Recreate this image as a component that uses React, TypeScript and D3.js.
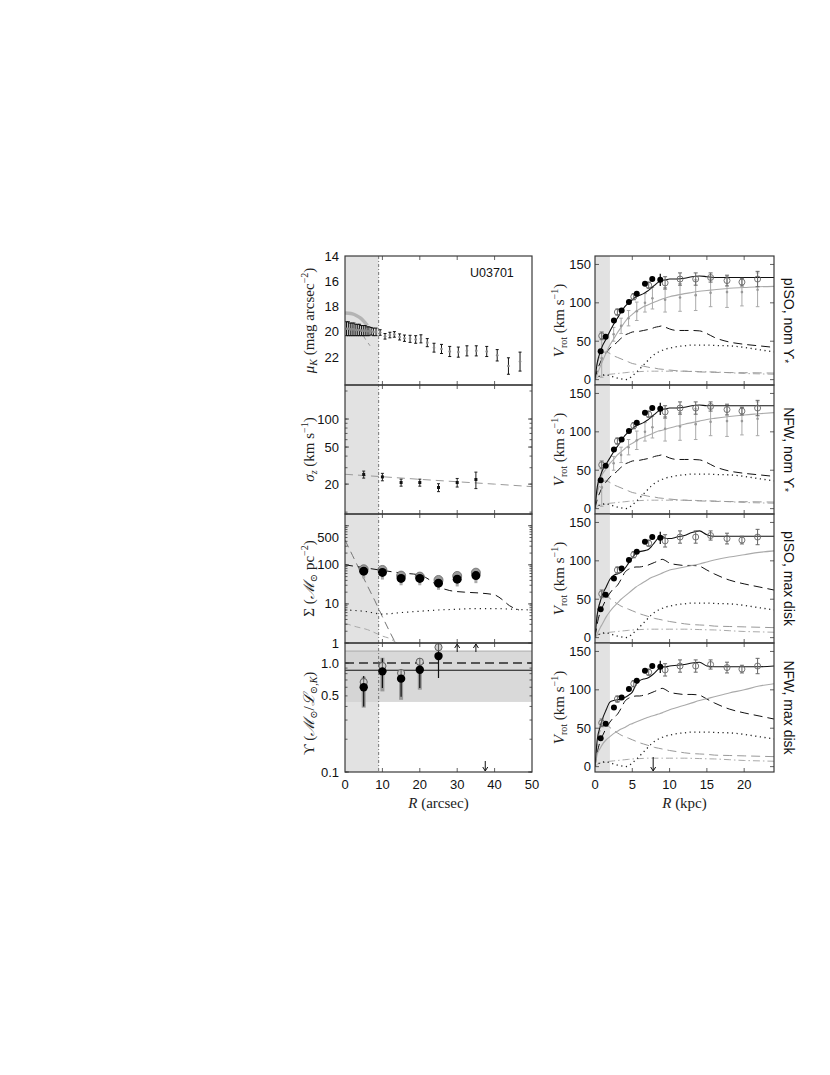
import React from "react";
import * as d3 from "d3";

const SANS = "'Liberation Sans', Arial, Helvetica, sans-serif";
const SERIF = "'Liberation Serif', 'DejaVu Serif', 'Times New Roman', serif";

// ---------------- Left column data ----------------
const galaxyName = "U03701";
const muR = [0.4, 0.9, 1.4, 1.9, 2.4, 2.9, 3.4, 3.9, 4.4, 4.9, 5.4, 5.9, 6.4, 7.0, 7.6, 8.3,
  9.4, 10.7, 12.0, 13.2, 14.6, 15.9, 17.4, 18.9, 20.3, 22.0, 23.8, 25.8, 28.0, 30.3, 32.6, 35.1, 37.9, 40.7, 43.7, 46.8];
const muV = [19.75, 19.75, 19.8, 19.8, 19.8, 19.85, 19.85, 19.85, 19.9, 19.9, 19.9, 19.95, 19.95, 19.95, 20.0, 20.0,
  20.05, 20.35, 20.25, 20.2, 20.4, 20.5, 20.55, 20.6, 20.55, 20.85, 21.25, 21.35, 21.55, 21.6, 21.5, 21.5, 21.55, 21.85, 22.7, 22.35];
const muErr = [0.55, 0.55, 0.5, 0.5, 0.5, 0.45, 0.45, 0.45, 0.4, 0.4, 0.4, 0.35, 0.35, 0.3, 0.3, 0.3,
  0.22, 0.22, 0.22, 0.22, 0.24, 0.25, 0.28, 0.3, 0.32, 0.32, 0.35, 0.36, 0.4, 0.4, 0.4, 0.4, 0.4, 0.45, 0.65, 0.75];
const muFitR = [0, 1, 2, 3, 4, 5, 6];
const muFitV = [18.5, 18.52, 18.58, 18.7, 18.88, 19.15, 19.5];
const muBulgeR = [3.5, 4.5, 5.5, 6.7];
const muBulgeV = [19.7, 20.1, 20.6, 21.1];
const muTicks = [14, 16, 18, 20, 22];

const sigR = [5, 10, 15, 20, 25, 30, 35];
const sigV = [25.4, 23.9, 20.8, 20.8, 18.4, 20.8, 22.4];
const sigErr = [2.2, 2.2, 1.8, 1.8, 1.8, 2.2, 4.5];
const sigModelR = [0, 10, 20, 30, 40, 50];
const sigModelV = [25.5, 24, 22.5, 21.2, 20, 18.8];
const sigTicks = [20, 50, 100];

const sdR = [5, 10, 15, 20, 25, 30, 35];
const sdFilled = [69, 64, 45, 45, 34, 43, 53];
const sdOpen = [77, 74, 53, 50, 41, 52, 63];
const sdLow = [45, 42, 30, 30, 23, 28, 34];
const sdDiskR = [0, 5, 10, 15, 20, 22.5, 25, 28, 32, 36, 40, 42, 44, 46.5];
const sdDiskV = [100, 85, 72, 62, 55, 42, 28, 22, 20, 19, 17, 13, 9, 7];
const sdBulgeR = [0, 2, 4, 6, 8, 10, 12, 13.5];
const sdBulgeV = [430, 175, 71, 29, 12, 4.7, 1.9, 1.0];
const sdGasR = [0, 5, 10, 15, 20, 25, 30, 35, 40, 45, 50];
const sdGasV = [7, 6.5, 5.5, 6, 6.5, 7, 7.3, 7.6, 7.6, 7.3, 7];
const sdMolR = [0, 3, 6, 9, 10, 12, 13.5, 14.5];
const sdMolV = [3.2, 2.6, 2.2, 1.65, 1.5, 1.3, 1.05, 0.9];
const sdTicks = [1, 10, 100, 500];

const upR = [5, 10, 15, 20, 25];
const upFilled = [0.60, 0.84, 0.72, 0.87, 1.16];
const upFilledLo = [0.40, 0.59, 0.49, 0.59, 0.73];
const upFilledHi = [0.76, 1.11, 0.83, 1.02, 1.37];
const upOpen = [0.67, 0.94, 0.81, 1.03, 1.40];
const upGreyLo = [0.39, 0.55, 0.46, 0.57];
const upGreyHi = [0.75, 1.12, 0.86, 1.07];
const upArrowR = [30, 35];
const upDownArrowR = 37.5;
const upBand = [0.44, 1.29];
const upNominal = 1.0;
const upMean = 0.86;
const upTickLabels = [0.1, 0.5, 1.0];
const leftXTicks = [0, 10, 20, 30, 40, 50];

// ---------------- Right column data ----------------
const RM = [0, 0.3, 0.7, 1, 1.5, 2, 2.5, 3, 3.5, 4, 4.5, 5, 5.5, 6, 6.5, 7, 7.5, 8, 8.5, 9, 9.5, 10, 11, 12, 13, 14, 15, 16, 18, 20, 22, 24];
const totalPisoNom = [0, 22, 36, 44, 53, 63, 72, 80, 88, 95, 100, 104, 108, 110, 112, 115, 119, 123, 127, 129, 130, 131, 131, 132, 134, 135, 134, 133, 133, 133, 133, 133];
const totalNfwNom = [0, 28, 42, 50, 58, 66, 74, 81, 88, 95, 100, 104, 108, 110, 112, 115, 119, 123, 127, 129, 130, 131, 131, 132, 134, 135, 134, 134, 134, 134, 134, 134];
const totalPisoMax = [0, 30, 47, 56, 66, 76, 81, 83, 85, 90, 97, 104, 110, 112, 113, 114, 118, 124, 130, 132, 129, 129, 131, 133, 137, 139, 134, 132, 132, 132, 132, 132];
const totalNfwMax = [0, 35, 52, 62, 74, 84, 86, 87, 88, 90, 93, 97, 107, 112, 114, 115, 118, 122, 127, 130, 130, 131, 132, 133, 135, 136, 131, 130, 130, 130, 130, 131];
const diskNom = [0, 12, 22, 28, 35, 41, 45, 49, 54, 58, 60, 62, 62.5, 63, 64, 65, 66, 68, 69, 70, 68, 66, 64, 64, 64, 63.5, 60, 55, 49, 46, 44, 42];
const diskMax = [0, 18, 33, 40, 50, 58, 64, 68, 76, 85, 89, 91, 92, 92, 93, 94, 96, 98, 100, 102, 100, 97, 95, 94, 94, 93, 88, 83, 75, 70, 66, 62];
const bulgeNom = [0, 20, 32, 35, 36, 34, 31, 29, 27, 25, 23, 21, 20, 18.5, 17.5, 16.5, 15.5, 15, 14, 13.5, 13, 12.5, 11.5, 11, 10.5, 10, 9.8, 9.5, 9.2, 9, 8.8, 8.5];
const bulgeMax = [0, 30, 47, 52, 54, 51, 47, 44, 41, 39, 37, 35, 33, 31, 29.5, 28, 26.5, 25, 24, 23, 22, 21, 19.5, 18, 17, 16.5, 16, 15, 14.5, 14, 13.5, 13];
const gasV = [0, 3, 5, 6, 6, 5, 3.5, 2, 1, 0, 1, 5, 9, 14, 19, 24, 29, 33, 36, 38, 40, 41, 43, 44, 45, 45, 45, 44.5, 44, 42, 39, 36];
const molV = [0, 3, 4.5, 5, 6, 7, 7.5, 8, 8.5, 9, 9.5, 10, 10.2, 10.5, 10.7, 11, 11, 11, 11, 11, 11, 11, 11, 11, 10.8, 10.5, 10.2, 10, 9, 8, 7.5, 7];
const haloPisoNom = [0, 7, 17, 24, 35, 45, 53, 61, 68, 75, 81, 85, 89, 92, 95, 97, 99, 101, 103, 105, 106.5, 108, 110, 112, 113.5, 115, 116, 117, 119, 120, 121, 121.5];
const haloNfwNom = [0, 25, 38, 45, 52, 59, 64, 70, 74, 78, 82, 85, 88, 91, 93, 95, 97, 99, 101, 102, 103.5, 105, 107.5, 110, 112, 114, 116, 117.5, 120, 122, 123.5, 125];
const haloPisoMax = [0, 5, 13, 18, 27, 34, 40, 45, 50, 54, 58, 62, 66, 69, 72, 75, 78, 80, 82, 84, 86, 88, 90, 92, 94, 96, 98.5, 101, 105, 108, 111, 113];
const haloNfwMax = [0, 16, 24, 29, 35, 39, 43, 46, 49, 51, 54, 56, 58, 60, 62, 64, 65.5, 67, 68.5, 70, 72, 74, 77, 80, 83, 86, 88.5, 91, 96, 100, 105, 108];

const starR = [0.76, 1.43, 2.54, 3.57, 4.55, 5.6, 6.7, 7.68, 8.75];
const starV = [37, 56, 77, 90, 101, 112, 125, 131, 130];
const starErr = [3, 3, 3, 3, 3, 3, 3, 3, 8];
const hiR = [0.9, 3.0, 5.2, 7.2, 9.4, 11.4, 13.5, 15.5, 17.7, 19.7, 21.8];
const hiV = [57, 88, 108, 123, 126, 131, 131, 133, 129, 127, 131];
const hiErr = [5, 4, 4, 4, 8, 8, 8, 6, 7, 5, 10];
const dmR = [0.9, 2.5, 3.5, 4.5, 5.6, 6.7, 7.7, 9.4, 11.4, 13.5, 15.5, 17.7, 19.7, 21.8];
const dmV = [28, 59, 70, 80, 89, 100, 106, 104, 107, 110, 113, 114, 114, 117];
const dmErr = [25, 9, 10, 10, 12, 12, 14, 16, 18, 20, 18, 20, 18, 22];
const rightYTicks = [0, 50, 100, 150];
const rightXTicks = [0, 5, 10, 15, 20];
const rightArrowR = 7.8;
const panelLabels = ["pISO, nom ", "NFW, nom ", "pISO, max disk", "NFW, max disk"];

// ---------------- Layout ----------------
const TOPS = [256, 385, 514, 643];
const PH = 129;
const LX0 = 345, LX1 = 532, RX0 = 595, RX1 = 774;
const SHADE = "#e2e2e2";
const FRAME = "#3a3a3a";
const TICKFS = 13;
const LABFS = 15;
const LEFT_LABEL_X = 314;
const RIGHT_LABEL_X = 564;

const xL = d3.scaleLinear().domain([0, 50]).range([LX0, LX1]);
const xR = d3.scaleLinear().domain([0, 24]).range([RX0, RX1]);
const yMu = d3.scaleLinear().domain([14, 24.2]).range([TOPS[0], TOPS[0] + PH]);
const ySig = d3.scaleLog().domain([9.55, 232]).range([TOPS[1] + PH, TOPS[1]]);
const ySd = d3.scaleLog().domain([1, 2000]).range([TOPS[2] + PH, TOPS[2]]);
const yUp = d3.scaleLog().domain([0.1, 1.53]).range([TOPS[3] + PH, TOPS[3]]);

function pathXY(xs: number[], ys: number[], x: any, y: any, curve = d3.curveLinear) {
  const pts = xs.map((v, i) => [v, ys[i]] as [number, number]);
  return d3.line<[number, number]>().x(d => x(d[0])).y(d => y(d[1])).curve(curve)(pts) || "";
}

function yTicks(y: any, vals: number[], x0: number, x1: number, len: number, key: string) {
  return vals.filter(v => y(v) >= y.range()[1] - 0.1 && y(v) <= y.range()[0] + 0.1).map((v, i) => (
    <g key={key + i}>
      <line x1={x0} x2={x0 + len} y1={y(v)} y2={y(v)} stroke={FRAME} strokeWidth={0.8} />
      <line x1={x1 - len} x2={x1} y1={y(v)} y2={y(v)} stroke={FRAME} strokeWidth={0.8} />
    </g>
  ));
}
function xTicks(x: any, vals: number[], y0: number, y1: number, len: number, key: string) {
  return vals.map((v, i) => (
    <g key={key + i}>
      <line x1={x(v)} x2={x(v)} y1={y0} y2={y0 + len} stroke={FRAME} strokeWidth={0.8} />
      <line x1={x(v)} x2={x(v)} y1={y1 - len} y2={y1} stroke={FRAME} strokeWidth={0.8} />
    </g>
  ));
}
function logMinor(lo: number, hi: number) {
  const out: number[] = [];
  for (let e = -2; e <= 4; e++) for (let m = 1; m <= 9; m++) {
    const v = m * Math.pow(10, e);
    if (v >= lo * 0.999 && v <= hi * 1.001) out.push(v);
  }
  return out;
}
function errBar(cx: number, ya: number, yb: number, key: string, color = "#111", cap = 2, w = 1) {
  return (
    <g key={key}>
      <line x1={cx} x2={cx} y1={ya} y2={yb} stroke={color} strokeWidth={w} />
      <line x1={cx - cap} x2={cx + cap} y1={ya} y2={ya} stroke={color} strokeWidth={w} />
      <line x1={cx - cap} x2={cx + cap} y1={yb} y2={yb} stroke={color} strokeWidth={w} />
    </g>
  );
}
function arrow(cx: number, yFrom: number, yTo: number, key: string) {
  const dir = yTo > yFrom ? 1 : -1;
  return (
    <g key={key}>
      <line x1={cx} x2={cx} y1={yFrom} y2={yTo} stroke="#111" strokeWidth={1} />
      <path d={`M${cx - 2.5},${yTo - dir * 4} L${cx},${yTo} L${cx + 2.5},${yTo - dir * 4}`} fill="none" stroke="#111" strokeWidth={1} />
    </g>
  );
}

function LeftPanels() {
  const els: any[] = [];
  const x9 = xL(9);
  els.push(<rect key="shL" x={LX0} y={TOPS[0]} width={x9 - LX0} height={PH * 4} fill={SHADE} />);

  els.push(
    <g key="p1" clipPath="url(#clipL0)">
      <path d={pathXY(muFitR, muFitV, xL, yMu, d3.curveMonotoneX)} fill="none" stroke="#b4b4b4" strokeWidth={3.5} />
      <path d={pathXY(muBulgeR, muBulgeV, xL, yMu)} fill="none" stroke="#999" strokeWidth={1} strokeDasharray="5,4" />
      {muR.map((r, i) => errBar(xL(r), yMu(muV[i] - muErr[i]), yMu(muV[i] + muErr[i]), "mu" + i, "#111", 1.5, 1))}
      {muR.map((r, i) => <circle key={"mup" + i} cx={xL(r)} cy={yMu(muV[i])} r={1.3} fill="#888" />)}
    </g>
  );
  els.push(<text key="gname" x={470} y={277} fontFamily={SANS} fontSize={12.5} fill="#111">{galaxyName}</text>);

  els.push(
    <g key="p2" clipPath="url(#clipL1)">
      <path d={pathXY(sigModelR, sigModelV, xL, ySig)} fill="none" stroke="#9a9a9a" strokeWidth={1} strokeDasharray="8,5" />
      {sigR.map((r, i) => errBar(xL(r), ySig(sigV[i] + sigErr[i]), ySig(sigV[i] - sigErr[i]), "sg" + i, "#222", 1.5, 1))}
      {sigR.map((r, i) => <rect key={"sgp" + i} x={xL(r) - 1.5} y={ySig(sigV[i]) - 1.5} width={3} height={3} fill="#111" />)}
    </g>
  );

  els.push(
    <g key="p3" clipPath="url(#clipL2)">
      <path d={pathXY(sdBulgeR, sdBulgeV, xL, ySd)} fill="none" stroke="#777" strokeWidth={1} strokeDasharray="8,5" />
      <path d={pathXY(sdMolR, sdMolV, xL, ySd, d3.curveMonotoneX)} fill="none" stroke="#aaa" strokeWidth={1} strokeDasharray="6,4" />
      <path d={pathXY(sdDiskR, sdDiskV, xL, ySd, d3.curveMonotoneX)} fill="none" stroke="#111" strokeWidth={1} strokeDasharray="8,5" />
      <path d={pathXY(sdGasR, sdGasV, xL, ySd, d3.curveMonotoneX)} fill="none" stroke="#222" strokeWidth={1.2} strokeDasharray="1.2,4" />
      {sdR.map((r, i) => <line key={"sde" + i} x1={xL(r)} x2={xL(r)} y1={ySd(sdLow[i])} y2={ySd(sdOpen[i])} stroke="#aaa" strokeWidth={3} />)}
      {sdR.map((r, i) => <circle key={"sdo" + i} cx={xL(r)} cy={ySd(sdOpen[i])} r={4.5} fill="#9a9a9a" stroke="#666" strokeWidth={0.8} />)}
      {sdR.map((r, i) => <circle key={"sdf" + i} cx={xL(r)} cy={ySd(sdFilled[i])} r={4.5} fill="#000" />)}
    </g>
  );

  els.push(
    <g key="p4" clipPath="url(#clipL3)">
      <rect x={LX0} y={yUp(upBand[1])} width={LX1 - LX0} height={yUp(upBand[0]) - yUp(upBand[1])} fill="#d2d2d2" opacity={0.85} />
      <line x1={LX0} x2={LX1} y1={yUp(upBand[1])} y2={yUp(upBand[1])} stroke="#aaa" strokeWidth={1} />
      <line x1={LX0} x2={LX1} y1={yUp(upNominal)} y2={yUp(upNominal)} stroke="#555" strokeWidth={2} strokeDasharray="9,5" />
      <line x1={LX0} x2={LX1} y1={yUp(upMean)} y2={yUp(upMean)} stroke="#111" strokeWidth={1} />
      {upGreyLo.map((lo, i) => <line key={"ug" + i} x1={xL(upR[i])} x2={xL(upR[i])} y1={yUp(lo)} y2={yUp(upGreyHi[i])} stroke="#999" strokeWidth={4} />)}
      {upR.map((r, i) => <line key={"ub" + i} x1={xL(r)} x2={xL(r)} y1={yUp(upFilledLo[i])} y2={yUp(upFilledHi[i])} stroke="#111" strokeWidth={1.2} />)}
      {upR.map((r, i) => <circle key={"uo" + i} cx={xL(r)} cy={yUp(upOpen[i])} r={3.6} fill="#cfcfcf" stroke="#555" strokeWidth={0.9} />)}
      {upR.map((r, i) => <line key={"uol" + i} x1={xL(r)} x2={xL(r)} y1={yUp(upOpen[i]) - 3.6} y2={yUp(upOpen[i]) + 3.6} stroke="#555" strokeWidth={0.9} />)}
      {upR.map((r, i) => <circle key={"uf" + i} cx={xL(r)} cy={yUp(upFilled[i])} r={4.2} fill="#000" />)}
      {upArrowR.map((r, i) => arrow(xL(r), TOPS[3] + 9, TOPS[3] + 1, "ua" + i))}
      {arrow(xL(upDownArrowR), TOPS[3] + PH - 11, TOPS[3] + PH - 1, "uda")}
    </g>
  );

  els.push(<line key="v9" x1={x9} x2={x9} y1={TOPS[0]} y2={TOPS[3] + PH} stroke="#555" strokeWidth={0.8} strokeDasharray="3,2,1,2" />);

  TOPS.forEach((t, i) => {
    els.push(<rect key={"fL" + i} x={LX0} y={t} width={LX1 - LX0} height={PH} fill="none" stroke={FRAME} strokeWidth={1.2} />);
    els.push(<g key={"xtL" + i}>{xTicks(xL, [10, 20, 30, 40], t, t + PH, 4, "xl" + i)}</g>);
  });
  els.push(<g key="ytmu">{yTicks(yMu, muTicks, LX0, LX1, 4, "ym")}</g>);
  els.push(<g key="ytsig">{yTicks(ySig, logMinor(10, 232), LX0, LX1, 2.5, "ys")}</g>);
  els.push(<g key="ytsig2">{yTicks(ySig, sigTicks, LX0, LX1, 4, "ys2")}</g>);
  els.push(<g key="ytsd">{yTicks(ySd, logMinor(1, 2000), LX0, LX1, 2.5, "yd")}</g>);
  els.push(<g key="ytsd2">{yTicks(ySd, [1, 10, 100, 1000], LX0, LX1, 4, "yd2")}</g>);
  els.push(<g key="ytup">{yTicks(yUp, logMinor(0.1, 1.53), LX0, LX1, 2.5, "yu")}</g>);
  els.push(<g key="ytup2">{yTicks(yUp, [0.1, 1], LX0, LX1, 4, "yu2")}</g>);

  const lab = (y: number, s: string, k: string) => (
    <text key={k} x={LX0 - 6} y={y} dy="0.35em" textAnchor="end" fontFamily={SANS} fontSize={TICKFS} fill="#111">{s}</text>
  );
  muTicks.forEach((v, i) => els.push(lab(yMu(v), String(v), "lm" + i)));
  sigTicks.forEach((v, i) => els.push(lab(ySig(v), String(v), "ls" + i)));
  sdTicks.forEach((v, i) => els.push(lab(ySd(v), String(v), "ld" + i)));
  upTickLabels.forEach((v, i) => els.push(lab(yUp(v), v.toFixed(1), "lu" + i)));
  leftXTicks.forEach((v, i) => els.push(
    <text key={"lx" + i} x={xL(v)} y={789} textAnchor="middle" fontFamily={SANS} fontSize={TICKFS} fill="#111">{v}</text>
  ));

  const cy = (i: number) => TOPS[i] + PH / 2;
  els.push(
    <text key="al0" transform={`translate(${LEFT_LABEL_X},${cy(0)}) rotate(-90)`} textAnchor="middle" fontFamily={SERIF} fontSize={LABFS} fill="#222">
      <tspan fontStyle="italic">μ</tspan><tspan fontSize={10} fontStyle="italic" dy={3}>K</tspan><tspan dy={-3}> (mag arcsec</tspan><tspan fontSize={10} dy={-6}>−2</tspan><tspan dy={6}>)</tspan>
    </text>
  );
  els.push(
    <text key="al1" transform={`translate(${LEFT_LABEL_X},${cy(1)}) rotate(-90)`} textAnchor="middle" fontFamily={SERIF} fontSize={LABFS} fill="#222">
      <tspan fontStyle="italic">σ</tspan><tspan fontSize={10} fontStyle="italic" dy={3}>z</tspan><tspan dy={-3}> (km s</tspan><tspan fontSize={10} dy={-6}>−1</tspan><tspan dy={6}>)</tspan>
    </text>
  );
  els.push(
    <text key="al2" transform={`translate(${LEFT_LABEL_X},${cy(2)}) rotate(-90)`} textAnchor="middle" fontFamily={SERIF} fontSize={LABFS} fill="#222">
      <tspan>Σ (</tspan><tspan fontStyle="italic">ℳ</tspan><tspan fontSize={10} dy={3}>⊙</tspan><tspan dy={-3}> pc</tspan><tspan fontSize={10} dy={-6}>−2</tspan><tspan dy={6}>)</tspan>
    </text>
  );
  els.push(
    <text key="al3" transform={`translate(${LEFT_LABEL_X},${cy(3) + 6}) rotate(-90)`} textAnchor="middle" fontFamily={SERIF} fontSize={LABFS} fill="#222">
      <tspan>ϒ (</tspan><tspan fontStyle="italic">ℳ</tspan><tspan fontSize={10} dy={3}>⊙</tspan><tspan dy={-3}>/</tspan><tspan fontStyle="italic">ℒ</tspan><tspan fontSize={10} dy={3}>⊙,</tspan><tspan fontSize={10} fontStyle="italic">K</tspan><tspan dy={-3}>)</tspan>
    </text>
  );
  els.push(
    <text key="axl" x={(LX0 + LX1) / 2} y={808} textAnchor="middle" fontFamily={SERIF} fontSize={LABFS} fill="#222">
      <tspan fontStyle="italic">R</tspan><tspan> (arcsec)</tspan>
    </text>
  );
  return <g>{els}</g>;
}

function RightPanels() {
  const cfg = [
    { total: totalPisoNom, disk: diskNom, bulge: bulgeNom, halo: haloPisoNom, dm: true },
    { total: totalNfwNom, disk: diskNom, bulge: bulgeNom, halo: haloNfwNom, dm: true },
    { total: totalPisoMax, disk: diskMax, bulge: bulgeMax, halo: haloPisoMax, dm: false },
    { total: totalNfwMax, disk: diskMax, bulge: bulgeMax, halo: haloNfwMax, dm: false },
  ];
  const els: any[] = [];
  cfg.forEach((c, i) => {
    const t = TOPS[i];
    const y = d3.scaleLinear().domain([-7, 161]).range([t + PH, t]);
    const ln = (vals: number[]) => pathXY(RM, vals, xR, y, d3.curveMonotoneX);
    els.push(
      <g key={"rp" + i}>
        <g clipPath={`url(#clipR${i})`}>
          <rect x={RX0} y={t} width={xR(2) - RX0} height={PH} fill={SHADE} />
          <path d={ln(molV)} fill="none" stroke="#aaa" strokeWidth={1} strokeDasharray="7,3,1.5,3" />
          <path d={ln(c.bulge)} fill="none" stroke="#999" strokeWidth={1} strokeDasharray="9,5" />
          <path d={ln(gasV)} fill="none" stroke="#222" strokeWidth={1.3} strokeDasharray="1.2,3.5" />
          <path d={ln(c.disk)} fill="none" stroke="#111" strokeWidth={1} strokeDasharray="9,5" />
          <path d={ln(c.halo)} fill="none" stroke="#aaa" strokeWidth={1.1} />
          {c.dm && dmR.map((r, j) => errBar(xR(r), y(dmV[j] + dmErr[j]), y(dmV[j] - dmErr[j]), "dm" + i + "_" + j, "#aaa", 1.8, 1))}
          {c.dm && dmR.map((r, j) => <circle key={"dmp" + i + j} cx={xR(r)} cy={y(dmV[j])} r={1.3} fill="#999" />)}
          <path d={ln(c.total)} fill="none" stroke="#111" strokeWidth={1.1} />
          {hiR.map((r, j) => errBar(xR(r), y(hiV[j] + hiErr[j]), y(hiV[j] - hiErr[j]), "hi" + i + "_" + j, "#666", 2, 1))}
          {hiR.map((r, j) => <circle key={"hip" + i + j} cx={xR(r)} cy={y(hiV[j])} r={3} fill="none" stroke="#666" strokeWidth={0.9} />)}
          {starR.map((r, j) => <line key={"se" + i + j} x1={xR(r)} x2={xR(r)} y1={y(starV[j] + starErr[j])} y2={y(starV[j] - starErr[j])} stroke="#000" strokeWidth={1.2} />)}
          {starR.map((r, j) => <circle key={"sp" + i + j} cx={xR(r)} cy={y(starV[j])} r={3} fill="#000" />)}
          {i === 3 && arrow(xR(rightArrowR), t + PH - 15, t + PH - 1, "ra")}
        </g>
        <rect x={RX0} y={t} width={RX1 - RX0} height={PH} fill="none" stroke={FRAME} strokeWidth={1.2} />
        {xTicks(xR, [5, 10, 15, 20], t, t + PH, 4, "xr" + i)}
        {yTicks(y, rightYTicks, RX0, RX1, 4, "yr" + i)}
        {rightYTicks.map((v, j) => (
          <text key={"ryl" + i + j} x={RX0 - 4} y={y(v)} dy="0.35em" textAnchor="end" fontFamily={SANS} fontSize={TICKFS} fill="#111">{v}</text>
        ))}
        <text transform={`translate(${RIGHT_LABEL_X},${t + PH / 2}) rotate(-90)`} textAnchor="middle" fontFamily={SERIF} fontSize={LABFS} fill="#222">
          <tspan fontStyle="italic">V</tspan><tspan fontSize={10} dy={3}>rot</tspan><tspan dy={-3}> (km s</tspan><tspan fontSize={10} dy={-6}>−1</tspan><tspan dy={6}>)</tspan>
        </text>
        <text transform={`translate(784,${t + PH / 2}) rotate(90)`} textAnchor="middle" fontFamily={SANS} fontSize={14} fill="#111">
          {i < 2 ? (
            <>
              <tspan>{panelLabels[i]}ϒ</tspan><tspan fontSize={10} dy={3}>*</tspan>
            </>
          ) : (
            <tspan>{panelLabels[i]}</tspan>
          )}
        </text>
      </g>
    );
  });
  rightXTicks.forEach((v, i) => els.push(
    <text key={"rx" + i} x={xR(v)} y={789} textAnchor="middle" fontFamily={SANS} fontSize={TICKFS} fill="#111">{v}</text>
  ));
  els.push(
    <text key="axr" x={(RX0 + RX1) / 2} y={808} textAnchor="middle" fontFamily={SERIF} fontSize={LABFS} fill="#222">
      <tspan fontStyle="italic">R</tspan><tspan> (kpc)</tspan>
    </text>
  );
  return <g>{els}</g>;
}

export default function App() {
  return (
    <div style={{ position: "absolute", left: 0, top: 0, width: 830, height: 1075, background: "#fff" }}>
      <svg width={830} height={1075} viewBox="0 0 830 1075" style={{ display: "block" }}>
        <defs>
          {TOPS.map((t, i) => (
            <clipPath key={"cl" + i} id={"clipL" + i}><rect x={LX0} y={t} width={LX1 - LX0} height={PH} /></clipPath>
          ))}
          {TOPS.map((t, i) => (
            <clipPath key={"cr" + i} id={"clipR" + i}><rect x={RX0} y={t} width={RX1 - RX0} height={PH} /></clipPath>
          ))}
        </defs>
        <rect x={0} y={0} width={830} height={1075} fill="#fff" />
        <LeftPanels />
        <RightPanels />
      </svg>
    </div>
  );
}
